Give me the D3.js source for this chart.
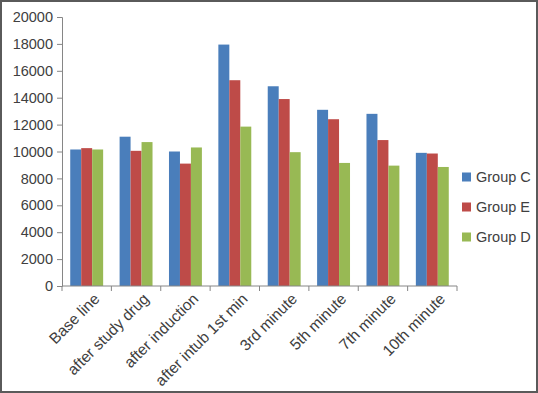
<!DOCTYPE html>
<html>
<head>
<meta charset="utf-8">
<script src="https://cdn.jsdelivr.net/npm/d3@7"></script>
<style>
  body { margin: 0; background: #fff; }
  svg { display: block; }
  text { font-family: "Liberation Sans", Arial, sans-serif; fill: #404040; }
</style>
</head>
<body>
<svg id="chart" width="538" height="393"></svg>
<script>
// data
var categories = ["Base line", "after study drug", "after induction", "after intub 1st min",
                  "3rd minute", "5th minute", "7th minute", "10th minute"];
var groupC = [10150, 11100, 10000, 17950, 14850, 13100, 12800, 9900];
var groupE = [10250, 10050, 9100, 15300, 13900, 12400, 10850, 9850];
var groupD = [10150, 10700, 10300, 11850, 9950, 9150, 8950, 8850];
var seriesNames = ["Group C", "Group E", "Group D"];
var yTicks = [0, 2000, 4000, 6000, 8000, 10000, 12000, 14000, 16000, 18000, 20000];

var colors = ["#4a7ebb", "#be4b48", "#98b954"];
var series = [groupC, groupE, groupD];

var svg = d3.select("#chart");

// outer frame
svg.append("rect")
  .attr("x", 1).attr("y", 1)
  .attr("width", 536).attr("height", 391)
  .attr("fill", "none")
  .attr("stroke", "#5a5a5a")
  .attr("stroke-width", 2);

var plotLeft = 62, plotTop = 17, plotRight = 457, plotBottom = 286;

var x0 = d3.scaleBand()
  .domain(categories)
  .range([plotLeft, plotRight])
  .paddingInner(0)
  .paddingOuter(0);

var x1 = d3.scaleBand()
  .domain(seriesNames)
  .range([0, x0.bandwidth()])
  .paddingInner(0)
  .paddingOuter(0.75);

var y = d3.scaleLinear()
  .domain([0, 20000])
  .range([plotBottom, plotTop]);

// bars
series.forEach(function(vals, si) {
  svg.append("g")
    .selectAll("rect")
    .data(vals)
    .join("rect")
    .attr("x", function(d, i) { return x0(categories[i]) + x1(seriesNames[si]); })
    .attr("y", function(d) { return y(d); })
    .attr("width", x1.bandwidth())
    .attr("height", function(d) { return plotBottom - y(d); })
    .attr("fill", colors[si]);
});

// y axis
var yAxis = svg.append("g")
  .attr("transform", "translate(" + plotLeft + ",0)")
  .call(d3.axisLeft(y).tickValues(yTicks).tickSize(5).tickPadding(4).tickFormat(d3.format("d")));
yAxis.select(".domain").attr("stroke", "#868686");
yAxis.selectAll(".tick line").attr("stroke", "#868686");
yAxis.selectAll(".tick text").attr("font-size", "14.5px").attr("fill", "#404040")
  .attr("font-family", "Liberation Sans, Arial, sans-serif");

// x axis: ticks at category boundaries
var xAxis = svg.append("g")
  .attr("transform", "translate(0," + plotBottom + ")");
xAxis.append("line")
  .attr("x1", plotLeft).attr("x2", plotRight)
  .attr("stroke", "#868686");
var bounds = categories.map(function(c) { return x0(c); }).concat([plotRight]);
xAxis.selectAll("line.tk")
  .data(bounds)
  .join("line")
  .attr("class", "tk")
  .attr("x1", function(d) { return d; })
  .attr("x2", function(d) { return d; })
  .attr("y1", 0).attr("y2", 5)
  .attr("stroke", "#868686");

xAxis.selectAll("text")
  .data(categories)
  .join("text")
  .attr("transform", function(d) {
    var cx = x0(d) + x0.bandwidth() / 2 + 10;
    return "translate(" + cx + ",10) rotate(-45)";
  })
  .attr("text-anchor", "end")
  .attr("dy", "0.35em")
  .attr("font-size", "15.5px")
  .text(function(d) { return d; });

// legend
var legend = svg.append("g");
seriesNames.forEach(function(name, i) {
  var ly = 177 + i * 30;
  legend.append("rect")
    .attr("x", 462).attr("y", ly - 4.5)
    .attr("width", 9).attr("height", 9)
    .attr("fill", colors[i]);
  legend.append("text")
    .attr("x", 476).attr("y", ly)
    .attr("dy", "0.35em")
    .attr("font-size", "14.5px")
    .text(name);
});
</script>
</body>
</html>
